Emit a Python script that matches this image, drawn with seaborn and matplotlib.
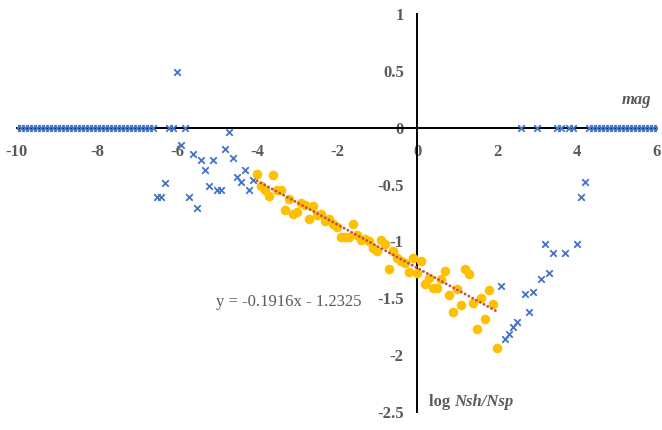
import numpy as np
import pandas as pd
import matplotlib
matplotlib.use("Agg")
import matplotlib.pyplot as plt
import seaborn as sns

# Residual data (blue crosses): log Nsh/Nsp outside the fitted interval
left_x = [round(-10 + 0.1 * i, 1) for i in range(35)] + [
    -6.5, -6.4, -6.3, -6.2, -6.1, -6.0, -5.9, -5.8, -5.7, -5.6, -5.5, -5.4,
    -5.3, -5.2, -5.1, -5.0, -4.9, -4.8, -4.7, -4.6, -4.5, -4.4, -4.3, -4.2, -4.1]
left_mag = [0.0] * 35 + [
    -0.61, -0.61, -0.49, 0.0, 0.0, 0.49, -0.15, 0.0, -0.61, -0.23, -0.71, -0.28,
    -0.37, -0.51, -0.28, -0.55, -0.55, -0.19, -0.04, -0.27, -0.43, -0.48, -0.37, -0.55, -0.46]

right_x = [2.1, 2.2, 2.3, 2.4, 2.5, 2.6, 2.7, 2.8, 2.9, 3.0, 3.1, 3.2, 3.3, 3.4,
           3.5, 3.6, 3.7, 3.8, 3.9, 4.0, 4.1, 4.2] + [round(4.3 + 0.1 * i, 1) for i in range(18)]
right_mag = [-1.39, -1.86, -1.81, -1.75, -1.71, 0.0, -1.46, -1.62, -1.445, 0.0, -1.33,
             -1.02, -1.28, -1.10, 0.0, 0.0, -1.10, 0.0, 0.0, -1.02, -0.61, -0.48] + [0.0] * 18

# Fitted interval (orange circles)
fit_x = [round(-4.0 + 0.1 * i, 1) for i in range(61)]
fit_mag = [
    -0.41, -0.51, -0.55, -0.60, -0.42, -0.55, -0.55, -0.72, -0.63, -0.76,
    -0.745, -0.66, -0.68, -0.80, -0.69, -0.77, -0.76, -0.82, -0.80, -0.85,
    -0.87, -0.96, -0.96, -0.96, -0.85, -0.94, -0.99, -0.975, -1.00, -1.06,
    -1.08, -0.99, -1.02, -1.245, -1.08, -1.15, -1.17, -1.19, -1.27, -1.15,
    -1.28, -1.17, -1.37, -1.32, -1.41, -1.41, -1.33, -1.26, -1.47, -1.62,
    -1.42, -1.56, -1.24, -1.29, -1.54, -1.77, -1.50, -1.68, -1.43, -1.55,
    -1.94]

# Linear trend of the fitted interval
slope = -0.1916
intercept = -1.2325

x_ticks = [-10, -8, -6, -4, -2, 0, 2, 4, 6]
y_ticks = [1, 0.5, 0, -0.5, -1, -1.5, -2, -2.5]

sns.set_theme(style="white")
plt.rcParams["font.family"] = ["Liberation Serif", "DejaVu Serif"]

grey = "#595959"
fig = plt.figure(figsize=(6.62, 4.30), dpi=100)
ax = fig.add_axes([17 / 662, 1 - 412 / 430, 640 / 662, 398 / 430])

cross = pd.DataFrame({"x": left_x + right_x, "mag": left_mag + right_mag})
fit = pd.DataFrame({"x": fit_x, "mag": fit_mag})

sns.scatterplot(data=cross, x="x", y="mag", marker="x", color="#4472C4",
                s=22, linewidth=1.3, ax=ax, zorder=3)
sns.scatterplot(data=fit, x="x", y="mag", marker="o", color="#FFC000",
                s=48, linewidth=0, ax=ax, zorder=4)

trend_x = np.array([min(fit_x), max(fit_x)])
trend = pd.DataFrame({"x": trend_x, "mag": slope * trend_x + intercept})
sns.lineplot(data=trend, x="x", y="mag", color="#C0504D", linewidth=2.0,
             linestyle=(0, (0.1, 1.45)), dash_capstyle="round", ax=ax, zorder=5)

ax.set_xlim(-10, 6)
ax.set_ylim(-2.5, 1)
ax.set_xticks(x_ticks)
ax.set_yticks(y_ticks)
ax.set_xticklabels([f"{v:g}" for v in x_ticks])
ax.set_yticklabels([f"{v:g}" for v in y_ticks])
ax.set_xlabel("")
ax.set_ylabel("")

for side in ("top", "right"):
    ax.spines[side].set_visible(False)
ax.spines["left"].set_position(("data", 0))
ax.spines["bottom"].set_position(("data", 0))
for side in ("left", "bottom"):
    ax.spines[side].set_color("black")
    ax.spines[side].set_linewidth(1.4)
    ax.spines[side].set_zorder(2)

ax.tick_params(axis="both", direction="inout", length=7, width=1.4, color="black",
               labelsize=12, labelcolor=grey)
ax.tick_params(axis="x", pad=8)
ax.tick_params(axis="y", pad=6)
for lab in ax.get_xticklabels() + ax.get_yticklabels():
    lab.set_fontweight("bold")

ax.text(5.85, 0.245, "mag", ha="right", va="center", fontsize=12,
        fontweight="bold", fontstyle="italic", color=grey)
t1 = ax.text(0.3, -2.415, "log ", ha="left", va="center", fontsize=12,
             fontweight="bold", color=grey)
ax.annotate("Nsh/Nsp", xy=(1, 0.5), xycoords=t1, ha="left", va="center",
            fontsize=12, fontweight="bold", fontstyle="italic", color=grey)

ax.text(-3.2, -1.533, "y = -0.1916x - 1.2325", ha="center", va="center",
        fontsize=12, color=grey)

fig.savefig("out.png", dpi=100)
